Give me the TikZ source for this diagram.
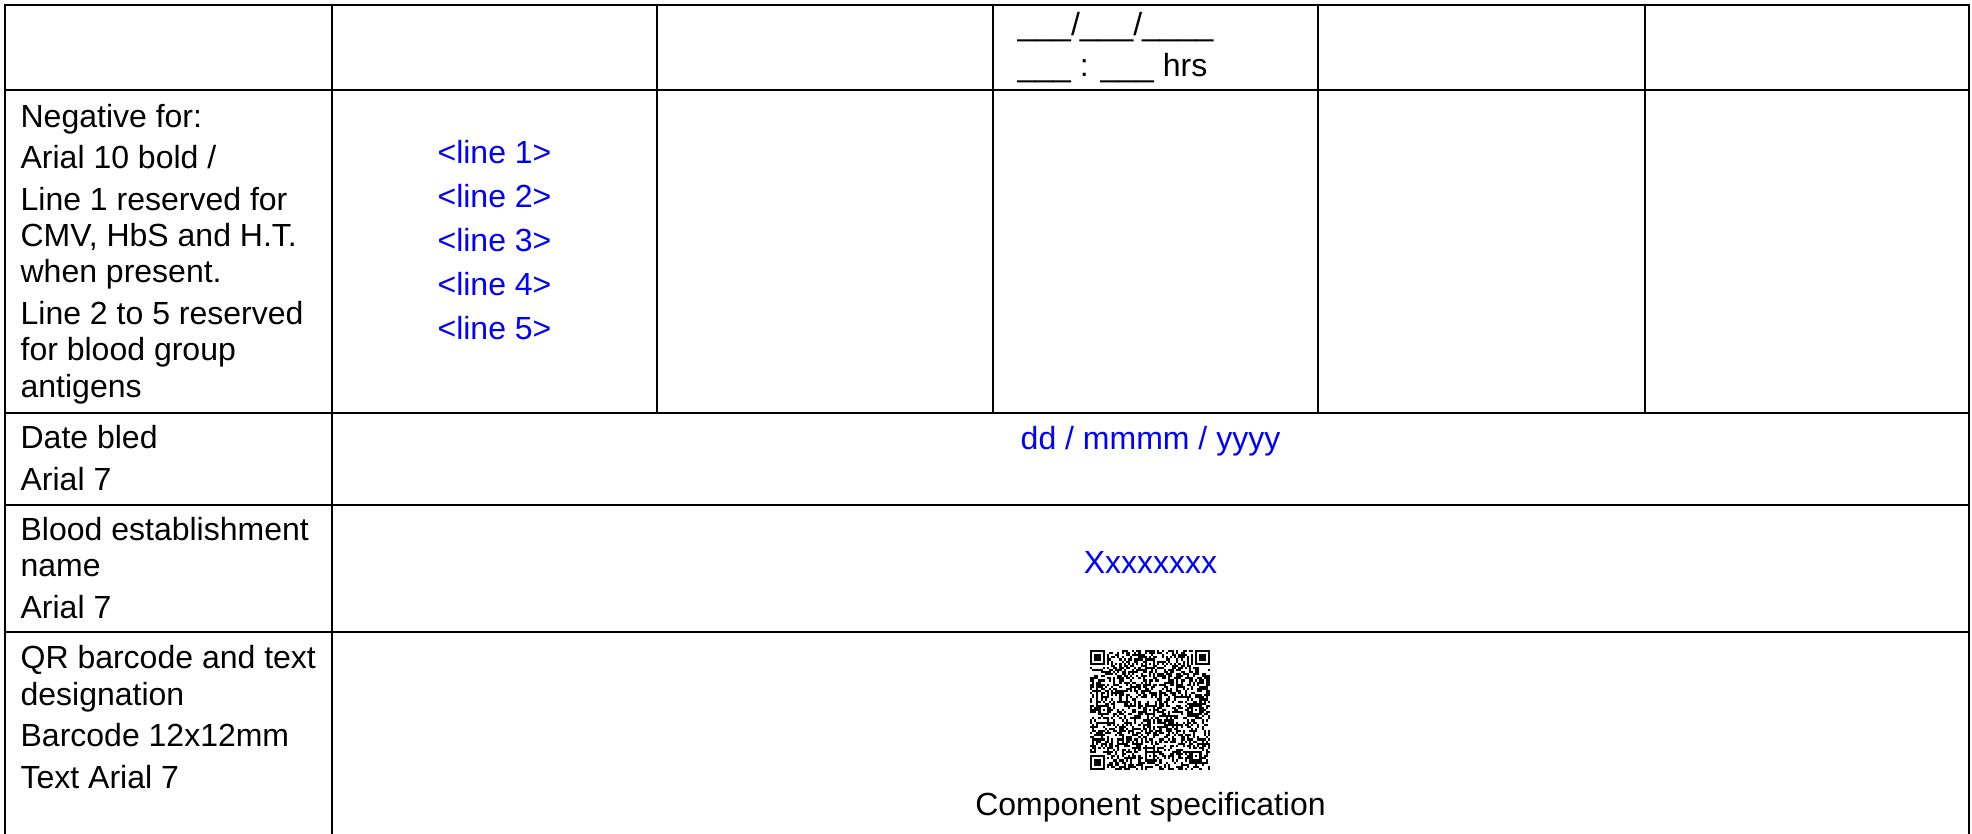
\documentclass[tikz,border=0pt]{standalone}
\usepackage{fontspec}
\setmainfont{Liberation Sans}

\definecolor{fieldblue}{RGB}{0,0,255}

\tikzset{
  rule/.style={line width=.85pt, line cap=rect},
  cell/.style={anchor=base west, inner sep=0pt, align=left},
  field/.style={anchor=base, inner sep=0pt, align=center, text=fieldblue},
  plain/.style={anchor=base, inner sep=0pt, align=center},
}

\begin{document}
\begin{tikzpicture}[x=.3125pt, y=-.3125pt, font=\fontsize{10}{11.375}\selectfont]
	\useasboundingbox (0,0) rectangle (1972,834);

	% table rules
	\foreach \yy in {5,90,413,505,632}
		\draw[rule] (5,\yy) -- (1969,\yy);
	\foreach \xx in {657,993,1318,1645}
		\draw[rule] (\xx,5) -- (\xx,413);
	\foreach \xx in {5,332,1969}
		\draw[rule] (\xx,5) -- (\xx,834);

	% time stamp in the top row (base = last line)
	\node[cell] (stamp) at (1017,77) {\_\_\_/\_\_\_/\_\_\_\_\\[1.6pt]\_\_\_ : \_\_\_ hrs};

	% label column
	\node[cell] (negfor) at (20,397) {Negative for:\\[1.56pt]
		Arial 10 bold /\\[1.56pt]
		Line 1 reserved for\\CMV, HbS and H.T.\\when present.\\[1.56pt]
		Line 2 to 5 reserved\\for blood group\\antigens};
	\node[cell] (bled) at (20,490) {Date bled\\[1.56pt]Arial 7};
	\node[cell] (estab) at (20,618) {Blood establishment\\name\\[1.56pt]Arial 7};
	\node[cell] (qrlabel) at (20,788) {QR barcode and text\\designation\\[1.56pt]
		Barcode 12x12mm\\[1.56pt]Text Arial 7};

	% fields
	\node[field] (lines) at (494.5,340) {<line 1>\\[2.4pt]<line 2>\\[2.4pt]<line 3>\\[2.4pt]<line 4>\\[2.4pt]<line 5>};
	\node[field] (datebled) at (1150.5,450) {dd / mmmm / yyyy};
	\node[field] (estname) at (1150.5,573) {Xxxxxxxx};
	\node[plain] (spec) at (1150.5,815) {Component specification};

	% QR barcode, 57 x 57 modules
	\begin{scope}[shift={(1090,650)}, x=.6579pt, y=-.6579pt]
		\pgfmathsetseed{4711}
		\foreach \i in {0,...,56}
			\foreach \j in {0,...,56}{
				\pgfmathtruncatemacro\dark{rnd<.5}
				\ifnum\dark=1 \fill (\i,\j) rectangle ++(1,1);\fi
			}
		\foreach \cx/\cy in {0/0,49/0,0/49}
			\fill[white] (\cx,\cy) rectangle ++(8,8);
		\foreach \k in {8,10,...,48}{
			\fill (\k,6) rectangle ++(1,1);
			\fill (6,\k) rectangle ++(1,1);
		}
		\foreach \k in {9,11,...,47}{
			\fill[white] (\k,6) rectangle ++(1,1);
			\fill[white] (6,\k) rectangle ++(1,1);
		}
		\foreach \fx/\fy in {0/0,50/0,0/50}{
			\fill (\fx,\fy) rectangle ++(7,7);
			\fill[white] (\fx+1,\fy+1) rectangle ++(5,5);
			\fill (\fx+2,\fy+2) rectangle ++(3,3);
		}
		\foreach \ax/\ay in {6/28,28/6,28/28,28/50,50/28,50/50}{
			\fill (\ax-2,\ay-2) rectangle ++(5,5);
			\fill[white] (\ax-1,\ay-1) rectangle ++(3,3);
			\fill (\ax,\ay) rectangle ++(1,1);
		}
	\end{scope}
\end{tikzpicture}
\end{document}
